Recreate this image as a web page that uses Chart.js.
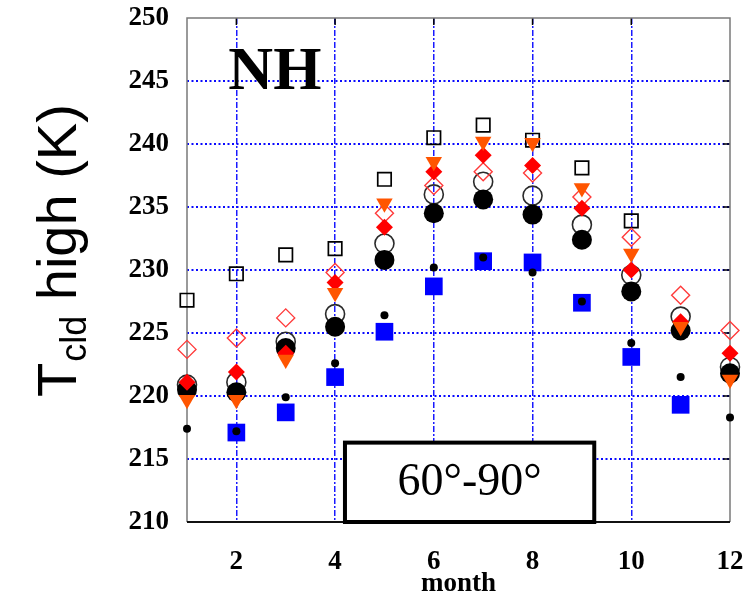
<!DOCTYPE html>
<html>
<head>
<meta charset="utf-8">
<script src="https://cdn.jsdelivr.net/npm/chart.js@4.4.1/dist/chart.umd.min.js"></script>
<style>
  html, body { margin: 0; padding: 0; background: #fff; }
  #wrap { width: 744px; height: 600px; }
</style>
</head>
<body>
<div id="wrap"><canvas id="tcldChart" width="744" height="600"></canvas></div>
<script>
// T_cld high, NH 60-90, monthly values
const months = [1, 2, 3, 4, 5, 6, 7, 8, 9, 10, 11, 12];
const yTicks = [210, 215, 220, 225, 230, 235, 240, 245, 250];

const openSquare   = [227.6, 229.7, 231.2, 231.7, 237.2, 240.5, 241.5, 240.3, 238.1, 233.9, null, null];
const openDiamond  = [223.7, 224.6, 226.2, 229.8, 234.5, 236.7, 237.8, 237.7, 235.8, 232.6, 228.0, 225.2];
const downTriangle = [219.7, 219.7, 222.9, 228.2, 235.3, 238.6, 240.2, 240.1, 236.5, 231.3, 225.5, 221.3];
const redDiamond   = [221.1, 221.9, 223.4, 229.0, 233.4, 237.8, 239.1, 238.3, 234.9, 230.0, 225.9, 223.4];
const openCircle   = [220.9, 221.1, 224.3, 226.5, 232.1, 236.0, 237.0, 235.9, 233.6, 229.6, 226.3, 222.3];
const blackCircle  = [220.5, 220.3, 223.8, 225.5, 230.8, 234.5, 235.6, 234.4, 232.4, 228.3, 225.2, 221.8];
const blueSquare   = [null, 217.1, 218.7, 221.5, 225.1, 228.7, 230.7, 230.6, 227.4, 223.1, 219.3, null];
const smallDot     = [217.4, 217.2, 219.9, 222.6, 226.4, 230.2, 231.0, 229.8, 227.5, 224.2, 221.5, 218.3];

const toPoints = (vals) => months.map((m, i) => ({ x: m, y: vals[i] }));

function series(label, vals, style) {
  return Object.assign({
    label: label,
    data: toPoints(vals),
    showLine: false,
    clip: false,
    pointBorderWidth: 0,
  }, style);
}

// frame, NH label, region box and the y title with subscript
const decorations = {
  id: "decorations",
  beforeDatasetsDraw(chart) {
    const { ctx, chartArea: a, scales: { x, y } } = chart;
    ctx.save();

    // small ticks on right and top edges
    ctx.strokeStyle = "#000";
    ctx.lineWidth = 1.5;
    yTicks.slice(1, -1).forEach((v) => {
      const py = y.getPixelForValue(v);
      ctx.beginPath();
      ctx.moveTo(a.right - 7, py);
      ctx.lineTo(a.right, py);
      ctx.stroke();
    });
    [2, 4, 6, 8, 10].forEach((m) => {
      const px = x.getPixelForValue(m);
      ctx.beginPath();
      ctx.moveTo(px, a.top);
      ctx.lineTo(px, a.top + 7);
      ctx.stroke();
    });

    // frame
    ctx.strokeStyle = "#7a7a7a";
    ctx.lineWidth = 1.5;
    ctx.beginPath();
    ctx.moveTo(a.left, a.bottom);
    ctx.lineTo(a.left, a.top);
    ctx.lineTo(a.right, a.top);
    ctx.lineTo(a.right, a.bottom);
    ctx.stroke();
    ctx.strokeStyle = "#111";
    ctx.lineWidth = 2;
    ctx.beginPath();
    ctx.moveTo(a.left, a.bottom);
    ctx.lineTo(a.right, a.bottom);
    ctx.stroke();

    // NH
    ctx.fillStyle = "#000";
    ctx.font = "bold 62px 'Liberation Serif', serif";
    ctx.textAlign = "center";
    ctx.textBaseline = "alphabetic";
    ctx.fillText("NH", x.getPixelForValue(2.78), y.getPixelForValue(244.4));

    // latitude box
    const bx0 = x.getPixelForValue(4.2), bx1 = x.getPixelForValue(9.25);
    const by0 = y.getPixelForValue(216.3), by1 = y.getPixelForValue(210);
    ctx.fillStyle = "#fff";
    ctx.fillRect(bx0, by0, bx1 - bx0, by1 - by0);
    ctx.strokeStyle = "#000";
    ctx.lineWidth = 4;
    ctx.strokeRect(bx0, by0, bx1 - bx0, by1 - by0);
    ctx.fillStyle = "#000";
    ctx.font = "46px 'Liberation Serif', serif";
    ctx.fillText("60°-90°", (bx0 + bx1) / 2, by0 + 52);

    ctx.restore();
  },
  afterDraw(chart) {
    const { ctx } = chart;
    ctx.save();
    ctx.translate(76, 397);
    ctx.rotate(-Math.PI / 2);
    ctx.fillStyle = "#000";
    ctx.textAlign = "left";
    ctx.textBaseline = "alphabetic";
    const big = "56px 'Liberation Sans', Arial, sans-serif";
    const small = "36px 'Liberation Sans', Arial, sans-serif";
    let cx = 0;
    ctx.font = big;
    ctx.fillText("T", cx, 0);
    cx += ctx.measureText("T").width + 1;
    ctx.font = small;
    ctx.fillText("cld", cx, 10);
    cx += ctx.measureText("cld").width;
    ctx.font = big;
    ctx.fillText(" high (K)", cx, 0);
    ctx.restore();
  },
};

new Chart(document.getElementById("tcldChart"), {
  type: "scatter",
  data: {
    datasets: [
      series("open square", openSquare, {
        pointStyle: "rect", pointRadius: 9.5, pointBackgroundColor: "rgba(0,0,0,0)",
        pointBorderColor: "#000", pointBorderWidth: 1.7, order: 8,
      }),
      series("open diamond", openDiamond, {
        pointStyle: "rectRot", pointRadius: 9, pointBackgroundColor: "rgba(0,0,0,0)",
        pointBorderColor: "#ff3a3a", pointBorderWidth: 1.4, order: 5,
      }),
      series("down triangle", downTriangle, {
        pointStyle: "triangle", pointRotation: 180, pointRadius: 9.5,
        pointBackgroundColor: "#ff5500", order: 3,
      }),
      series("red diamond", redDiamond, {
        pointStyle: "rectRot", pointRadius: 8.5, pointBackgroundColor: "#ff0000", order: 4,
      }),
      series("open circle", openCircle, {
        pointStyle: "circle", pointRadius: 9.5, pointBackgroundColor: "rgba(0,0,0,0)",
        pointBorderColor: "#2a2a2a", pointBorderWidth: 1.6, order: 7,
      }),
      series("black circle", blackCircle, {
        pointStyle: "circle", pointRadius: 10, pointBackgroundColor: "#000", order: 6,
      }),
      series("blue square", blueSquare, {
        pointStyle: "rect", pointRadius: 12.5, pointBackgroundColor: "#0000ff", order: 2,
      }),
      series("small dot", smallDot, {
        pointStyle: "circle", pointRadius: 4, pointBackgroundColor: "#000", order: 1,
      }),
    ],
  },
  options: {
    responsive: false,
    animation: false,
    layout: { padding: { top: 18, right: 14, left: 0, bottom: 0 } },
    plugins: {
      legend: { display: false },
      tooltip: { enabled: false },
    },
    scales: {
      x: {
        type: "linear",
        min: 1,
        max: 12,
        afterFit: (s) => {
          s.height = 78;
          s.paddingLeft = 0;
          s.paddingRight = 0;
        },
        afterBuildTicks: (s) => { s.ticks = months.map((m) => ({ value: m })); },
        ticks: {
          autoSkip: false,
          maxRotation: 0,
          padding: 24,
          color: "#000",
          font: { family: "'Liberation Serif', serif", size: 27, weight: "bold" },
          callback: (v) => (v % 2 === 0 ? String(v) : ""),
        },
        grid: {
          drawTicks: false,
          lineWidth: 1.5,
          color: (c) => {
            const v = c.tick && c.tick.value;
            return v % 2 === 0 && v < 12 ? "#1a1aff" : "rgba(0,0,0,0)";
          },
        },
        border: { display: false, dash: [6, 2, 2, 2] },
        title: {
          display: true,
          text: "month",
          color: "#000",
          padding: { top: 0, bottom: 0 },
          font: { family: "'Liberation Serif', serif", size: 27, weight: "bold" },
        },
      },
      y: {
        min: 210,
        max: 250,
        afterFit: (s) => {
          s.width = 187;
          s.paddingTop = 0;
          s.paddingBottom = 0;
        },
        afterBuildTicks: (s) => { s.ticks = yTicks.map((v) => ({ value: v })); },
        ticks: {
          padding: 18,
          color: "#000",
          font: { family: "'Liberation Serif', serif", size: 27, weight: "bold" },
        },
        grid: {
          drawTicks: false,
          lineWidth: 2,
          color: (c) => {
            const v = c.tick && c.tick.value;
            return v > 210 && v < 250 ? "#0a0aff" : "rgba(0,0,0,0)";
          },
        },
        border: { display: false, dash: [2, 2.5] },
      },
    },
  },
  plugins: [decorations],
});
</script>
</body>
</html>
